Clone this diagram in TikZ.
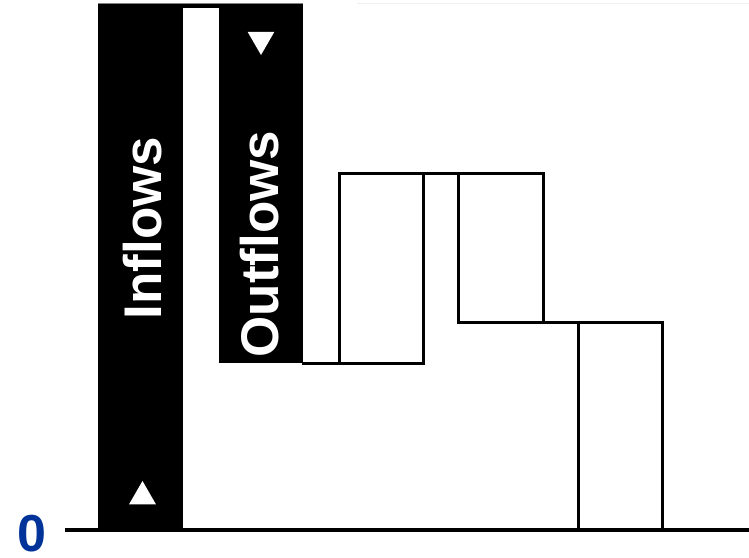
\documentclass[tikz,border=0pt]{standalone}
\usepackage{fontspec}
\setmainfont{Liberation Sans}
\usetikzlibrary{shapes.geometric}
\definecolor{zeroblue}{RGB}{0,51,153}
\begin{document}
\begin{tikzpicture}[x=1pt,y=-1pt,
  bar/.style={fill=black, draw=none, inner sep=0pt, outer sep=0pt, anchor=north west},
  box/.style={draw=black, line width=3pt, inner sep=0pt, outer sep=0pt, anchor=north west},
  flowline/.style={draw=black, line width=3pt, line cap=rect},
  baseline/.style={draw=black, line width=4pt},
  tri/.style={regular polygon, regular polygon sides=3, fill=white, draw=none, inner sep=0pt, minimum size=31pt},
  barlabel/.style={rotate=90, anchor=base, text=white, font=\bfseries\fontsize{53}{53}\selectfont, inner sep=0pt},
  ]
\useasboundingbox (0,0) rectangle (749,557);
% bars
\node[bar, minimum width=85pt, minimum height=527pt] (inbar) at (98,3.5) {};
\node[bar, minimum width=84pt, minimum height=359.5pt] (outbar) at (219,3.5) {};
\node[bar, minimum width=36pt, minimum height=4.5pt] (topstrip) at (183,3.5) {};
\draw[gray, line width=1pt] (inbar.north west) -- (outbar.north east);
\coordinate (faintA) at (357,3);
\coordinate (faintB) at (749,3);
\draw[black!6, line width=1pt] (faintA) -- (faintB);
% labels
\node[barlabel] (inlabel) at (161,228) {Inflows};
\node[barlabel] (outlabel) at (278,244) {Outflows};
% triangles
\node[tri] (uptri) at (142.5,496.5) {};
\node[tri, shape border rotate=180] (downtri) at (261,39.5) {};
% boxes
\node[box, minimum width=84pt, minimum height=190pt] (box1) at (339,173) {};
\node[box, minimum width=85pt, minimum height=149pt] (box2) at (458,173) {};
\node[box, minimum width=84pt, minimum height=208pt] (box3) at (578,322) {};
% connectors
\draw[flowline] (outbar.south east) -- (box1.south west);
\draw[flowline] (box1.north east) -- (box2.north west);
\draw[flowline] (box2.south east) -- (box3.north west);
% zero axis
\coordinate (axisL) at (65,530);
\coordinate (axisR) at (749,530);
\draw[baseline] (axisL) -- (axisR);
\node[anchor=base, text=zeroblue, font=\bfseries\fontsize{52}{52}\selectfont, inner sep=0pt] (zero) at (31.5,551.5) {0};
\end{tikzpicture}
\end{document}
